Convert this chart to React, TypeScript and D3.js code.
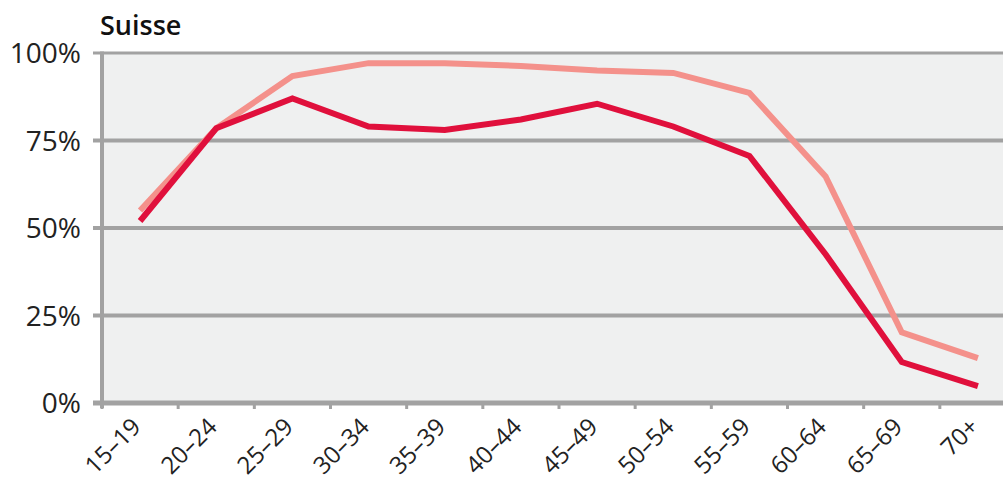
import React from 'react';
import * as d3 from 'd3';

const categories = ['15–19', '20–24', '25–29', '30–34', '35–39', '40–44', '45–49', '50–54', '55–59', '60–64', '65–69', '70+'];
const darkSeries = [52, 78.5, 87, 79, 78, 81, 85.5, 79, 70.6, 42.5, 11.7, 4.8];
const lightSeries = [55, 78.5, 93.4, 97.1, 97.1, 96.3, 95, 94.3, 88.6, 64.7, 20.2, 12.8];
const yTicks = [0, 25, 50, 75, 100];

const W = 1003;
const H = 479;
const margin = { left: 102, right: -13, top: 53, bottom: 75 };
const font = "'Open Sans', 'Noto Sans', sans-serif";

export default function App() {
	const x = d3.scaleBand().domain(categories).range([margin.left, W - margin.right]).paddingInner(0).paddingOuter(0);
	const y = d3.scaleLinear().domain([0, 100]).range([H - margin.bottom - 1, margin.top]);
	const cx = (c) => (x(c) as number) + x.bandwidth() / 2;

	// lines through category centres
	const line = d3.line<number>().x((d, i) => cx(categories[i])).y((d) => y(d));

	const y0 = y(0);
	const grid = '#a2a2a2';

	return (
		<svg width={W} height={H} style={{ position: 'absolute', left: 0, top: 0, background: '#fff' }}>
			<rect x={margin.left} y={y(100)} width={W - margin.left} height={y0 - y(100)} fill="#eff0f0" />

			{yTicks.map((t) => (
				<g key={t}>
					<line x1={93} x2={W} y1={y(t)} y2={y(t)} stroke={grid} strokeWidth={t === 100 ? 3 : t === 0 ? 5 : 4} />
					<text x={81} y={y(t)} dy="0.36em" textAnchor="end" fontFamily={font} fontSize={28} fill="#222">
						{t}%
					</text>
				</g>
			))}

			{/* left axis */}
			<line x1={margin.left} x2={margin.left} y1={y(100) - 1.5} y2={y0 + 5} stroke={grid} strokeWidth={4} />

			{/* bottom ticks between categories */}
			{categories.map((c) => (
				<line key={c} x1={x(c)} x2={x(c)} y1={y0} y2={y0 + 6} stroke={grid} strokeWidth={3} />
			))}

			{categories.map((c) => (
				<text
					key={c}
					transform={`translate(${cx(c) - 10},${y0 + 13}) rotate(-45)`}
					textAnchor="end"
					dy="0.72em"
					fontFamily={font}
					fontSize={24}
					fill="#222"
				>
					{c}
				</text>
			))}

			<path d={line(lightSeries) as string} fill="none" stroke="#f4918b" strokeWidth={6} strokeLinejoin="miter" />
			<path d={line(darkSeries) as string} fill="none" stroke="#e0103c" strokeWidth={6} strokeLinejoin="miter" />

			<text x={100} y={35} fontFamily={font} fontSize={27} fontWeight={600} fill="#111">
				Suisse
			</text>
		</svg>
	);
}
